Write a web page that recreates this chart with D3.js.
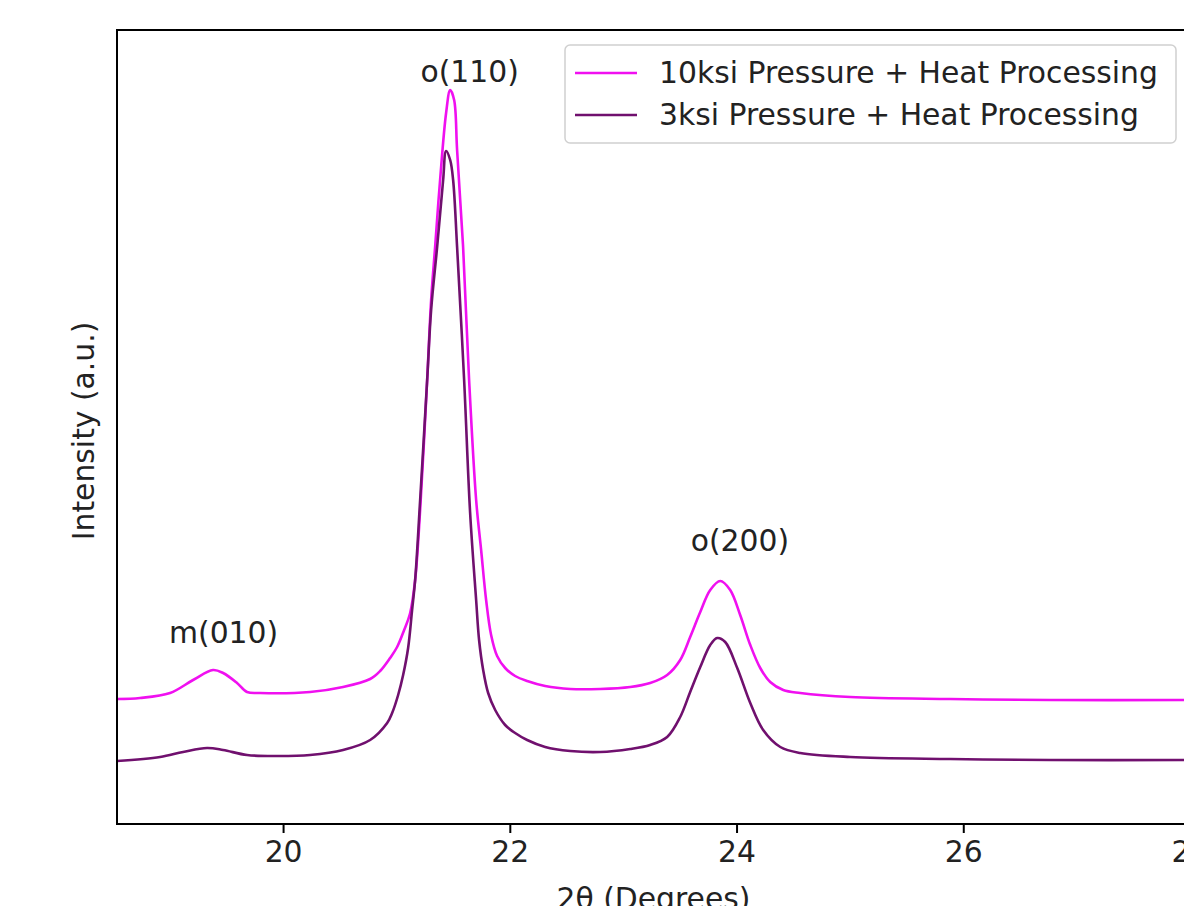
<!DOCTYPE html>
<html>
<head>
<meta charset="utf-8">
<script src="https://cdn.jsdelivr.net/npm/d3@7"></script>
<style>
  html, body { margin: 0; padding: 0; background: #fff; overflow: hidden; }
  svg { display: block; font-family: "DejaVu Sans", sans-serif; }
</style>
</head>
<body>
<svg id="chart" width="1184" height="906"></svg>
<script>
// ---------- data ----------
const seriesNames = ["10ksi Pressure + Heat Processing", "3ksi Pressure + Heat Processing"];
const seriesColors = ["#f010f0", "#70106e"];

const twoTheta10 = [18.535, 18.738, 19.003, 19.206, 19.382, 19.471, 19.594, 19.682, 19.797, 20.238,
  20.529, 20.768, 20.856, 20.944, 21.006, 21.068, 21.121, 21.165, 21.209, 21.271, 21.306, 21.341,
  21.385, 21.438, 21.474, 21.509, 21.535, 21.588, 21.641, 21.703, 21.747, 21.791, 21.835, 21.888,
  21.959, 22.047, 22.153, 22.312, 22.533, 22.797, 23.062, 23.238, 23.388, 23.503, 23.591, 23.680,
  23.768, 23.856, 23.944, 24.032, 24.121, 24.209, 24.297, 24.412, 24.562, 25.003, 25.885, 26.768, 28.003];
const intensity10 = [1250, 1260, 1310, 1440, 1540, 1510, 1410, 1320, 1310, 1320,
  1370, 1450, 1530, 1660, 1770, 1940, 2110, 2440, 3140, 4440, 5240, 5770,
  6440, 7110, 7340, 7240, 6740, 5770, 4440, 3240, 2740, 2240, 1890, 1680,
  1560, 1480, 1430, 1380, 1350, 1350, 1370, 1410, 1490, 1640, 1870, 2120,
  2340, 2430, 2340, 2090, 1790, 1560, 1420, 1340, 1310, 1270, 1250, 1240, 1240];

const twoTheta3 = [18.535, 18.915, 19.118, 19.329, 19.471, 19.682, 19.947, 20.238, 20.529, 20.768,
  20.918, 20.962, 21.015, 21.059, 21.103, 21.138, 21.165, 21.209, 21.271, 21.306, 21.359, 21.412,
  21.438, 21.474, 21.500, 21.535, 21.597, 21.650, 21.703, 21.729, 21.765, 21.809, 21.871, 21.959,
  22.047, 22.153, 22.312, 22.533, 22.797, 23.062, 23.238, 23.388, 23.503, 23.591, 23.680, 23.768,
  23.829, 23.900, 24.006, 24.121, 24.235, 24.386, 24.562, 25.003, 25.885, 26.768, 28.003];
const intensity3 = [630, 670, 720, 760, 740, 690, 680, 690, 740, 840,
  1010, 1110, 1290, 1490, 1760, 2140, 2440, 3240, 4440, 5140, 5770, 6440,
  6730, 6640, 6440, 5770, 4440, 3110, 2240, 1840, 1540, 1310, 1140, 990,
  910, 840, 770, 730, 720, 750, 790, 870, 1070, 1320, 1570, 1790,
  1860, 1820, 1560, 1210, 940, 770, 710, 670, 650, 640, 640];

const xTicks = [20, 22, 24, 26, 28];

const peakLabels = ["m(010)", "o(110)", "o(200)"];
const peakLabelX = [19.475, 21.646, 24.03];
const peakLabelY = [1810, 7420, 2730];

const xLabel = "2θ (Degrees)";
const yLabel = "Intensity (a.u.)";

// ---------- layout ----------
const mLeft = 117, mTop = 30, mRight = 1190, mBottom = 824;
const svg = d3.select("#chart");

const x = d3.scaleLinear().domain([18.535, 28.0]).range([mLeft, mRight]);
const y = d3.scaleLinear().domain([0, 7940]).range([mBottom, mTop]);

const fs = 29.8;

svg.append("defs").append("clipPath").attr("id", "plotclip")
  .append("rect").attr("x", mLeft).attr("y", mTop)
  .attr("width", mRight - mLeft).attr("height", mBottom - mTop);

const series = [
  { name: seriesNames[0], color: seriesColors[0], xs: twoTheta10, ys: intensity10 },
  { name: seriesNames[1], color: seriesColors[1], xs: twoTheta3, ys: intensity3 }
];

const line = d3.line()
  .x(d => x(d[0]))
  .y(d => y(d[1]))
  .curve(d3.curveCatmullRom.alpha(0.5));

const g = svg.append("g").attr("clip-path", "url(#plotclip)");
series.forEach(s => {
  const pts = s.xs.map((v, i) => [v, s.ys[i]]);
  g.append("path")
    .datum(pts)
    .attr("d", line)
    .attr("fill", "none")
    .attr("stroke", s.color)
    .attr("stroke-width", 2.6)
    .attr("stroke-linejoin", "round");
});

// x axis
const xAxis = d3.axisBottom(x).tickValues(xTicks).tickFormat(d3.format("d"))
  .tickSizeInner(9).tickSizeOuter(0).tickPadding(8);
const ax = svg.append("g").attr("transform", `translate(0,${mBottom})`).call(xAxis);
ax.select(".domain").remove();
ax.selectAll(".tick line").attr("stroke", "#000").attr("stroke-width", 2);
ax.selectAll(".tick text").attr("font-size", fs).attr("fill", "#222")
  .attr("font-family", "DejaVu Sans, sans-serif");

// frame (spines)
svg.append("rect")
  .attr("x", mLeft).attr("y", mTop)
  .attr("width", mRight - mLeft).attr("height", mBottom - mTop)
  .attr("fill", "none").attr("stroke", "#000").attr("stroke-width", 2);

// axis labels
svg.append("text")
  .attr("x", (mLeft + mRight) / 2).attr("y", 909)
  .attr("text-anchor", "middle").attr("font-size", fs).attr("fill", "#222")
  .text(xLabel);
svg.append("text")
  .attr("transform", `translate(94,${(mTop + mBottom) / 2 + 4}) rotate(-90)`)
  .attr("text-anchor", "middle").attr("font-size", fs).attr("fill", "#222")
  .text(yLabel);

// peak annotations
peakLabels.forEach((t, i) => {
  svg.append("text")
    .attr("x", x(peakLabelX[i])).attr("y", y(peakLabelY[i]))
    .attr("text-anchor", "middle").attr("font-size", fs).attr("fill", "#222")
    .text(t);
});

// legend
const lg = svg.append("g");
lg.append("rect")
  .attr("x", 565).attr("y", 45).attr("width", 611).attr("height", 98)
  .attr("rx", 5).attr("fill", "#fff").attr("fill-opacity", 0.8)
  .attr("stroke", "#d0d0d0").attr("stroke-width", 1.5);
series.forEach((s, i) => {
  const cy = 73 + i * 42;
  lg.append("line").attr("x1", 575).attr("x2", 637).attr("y1", cy).attr("y2", cy)
    .attr("stroke", s.color).attr("stroke-width", 2.6);
  lg.append("text").attr("x", 659).attr("y", cy + 10)
    .attr("font-size", fs).attr("fill", "#222").text(s.name);
});
</script>
</body>
</html>
